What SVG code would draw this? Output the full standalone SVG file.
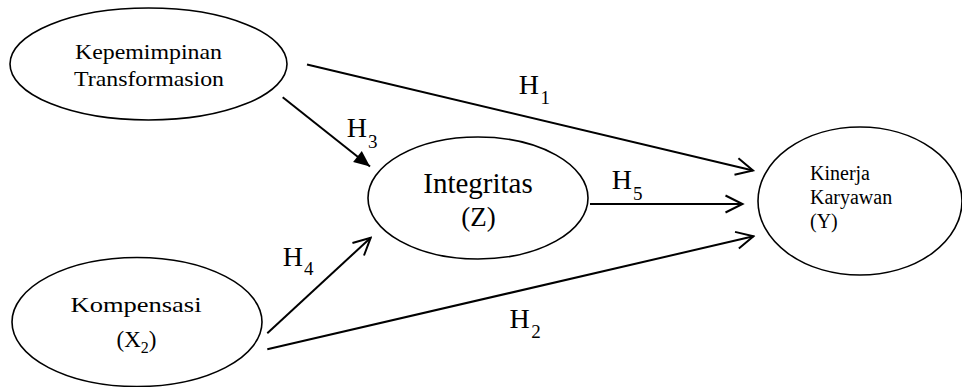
<svg xmlns="http://www.w3.org/2000/svg" width="962" height="387" viewBox="0 0 962 387">
<style>
  .node { fill: #fff; stroke: #000; stroke-width: 1.6; }
  .t { font-family: "Liberation Serif", "Times New Roman", serif; fill: #000; }
  .edge { stroke: #000; stroke-width: 2; fill: none; }
</style>
<defs>
  <marker id="open" viewBox="-20 -11 22 22" refX="0" refY="0" markerWidth="22" markerHeight="22" markerUnits="userSpaceOnUse" orient="auto">
    <path d="M -17 -8.5 L 0 0 L -17 8.5" fill="none" stroke="#000" stroke-width="2"/>
  </marker>
  <marker id="solid" viewBox="-18 -9 19 18" refX="0" refY="0" markerWidth="19" markerHeight="18" markerUnits="userSpaceOnUse" orient="auto">
    <path d="M -16 -7 L 0 0 L -16 7 z" fill="#000"/>
  </marker>
</defs>
<rect width="962" height="387" fill="#fff"/>

<g id="n-kepemimpinan">
  <ellipse class="node" cx="148.5" cy="64" rx="138.5" ry="56"/>
  <text class="t" x="148.5" y="59" font-size="21" text-anchor="middle" textLength="147" lengthAdjust="spacingAndGlyphs">Kepemimpinan</text>
  <text class="t" x="149" y="85.5" font-size="21" text-anchor="middle" textLength="150" lengthAdjust="spacingAndGlyphs">Transformasion</text>
</g>

<g id="n-integritas">
  <ellipse class="node" cx="478" cy="198" rx="110" ry="61"/>
  <text class="t" x="478" y="193" font-size="29" text-anchor="middle">Integritas</text>
  <text class="t" x="478.5" y="226" font-size="27" text-anchor="middle">(Z)</text>
</g>

<g id="n-kinerja">
  <ellipse class="node" cx="860" cy="201" rx="102" ry="74"/>
  <text class="t" x="810" y="180" font-size="20">Kinerja</text>
  <text class="t" x="810" y="204" font-size="20">Karyawan</text>
  <text class="t" x="810" y="228" font-size="20">(Y)</text>
</g>

<g id="n-kompensasi">
  <ellipse class="node" cx="137" cy="322" rx="125" ry="64.5"/>
  <text class="t" x="136" y="312" font-size="21" text-anchor="middle" textLength="131" lengthAdjust="spacingAndGlyphs">Kompensasi</text>
  <text class="t" x="136.5" y="346.5" font-size="23" text-anchor="middle">(X<tspan font-size="16" dy="6">2</tspan><tspan dy="-6">)</tspan></text>
</g>

<g id="connectors">
  <line class="edge" x1="307" y1="64.5" x2="753" y2="170.5" marker-end="url(#open)"/>
  <line class="edge" x1="282.7" y1="97.3" x2="370" y2="166.5" marker-end="url(#solid)"/>
  <line class="edge" x1="267.3" y1="333.3" x2="370.7" y2="237.7" marker-end="url(#open)"/>
  <line class="edge" x1="267.3" y1="349.3" x2="753.5" y2="236.3" marker-end="url(#open)"/>
  <line class="edge" x1="590" y1="204" x2="742.5" y2="204" marker-end="url(#open)"/>
</g>

<g id="labels">
  <text class="t" x="518.8" y="94" font-size="28">H<tspan font-size="19" dx="1.5" dy="10">1</tspan></text>
  <text class="t" x="346.8" y="136.5" font-size="28">H<tspan font-size="19" dx="1" dy="11.5">3</tspan></text>
  <text class="t" x="611.8" y="189.3" font-size="28">H<tspan font-size="19" dx="1" dy="10.7">5</tspan></text>
  <text class="t" x="282.8" y="265.7" font-size="28">H<tspan font-size="19" dx="1" dy="9.3">4</tspan></text>
  <text class="t" x="509.5" y="328.3" font-size="28">H<tspan font-size="19" dx="1.5" dy="10">2</tspan></text>
</g>
</svg>
